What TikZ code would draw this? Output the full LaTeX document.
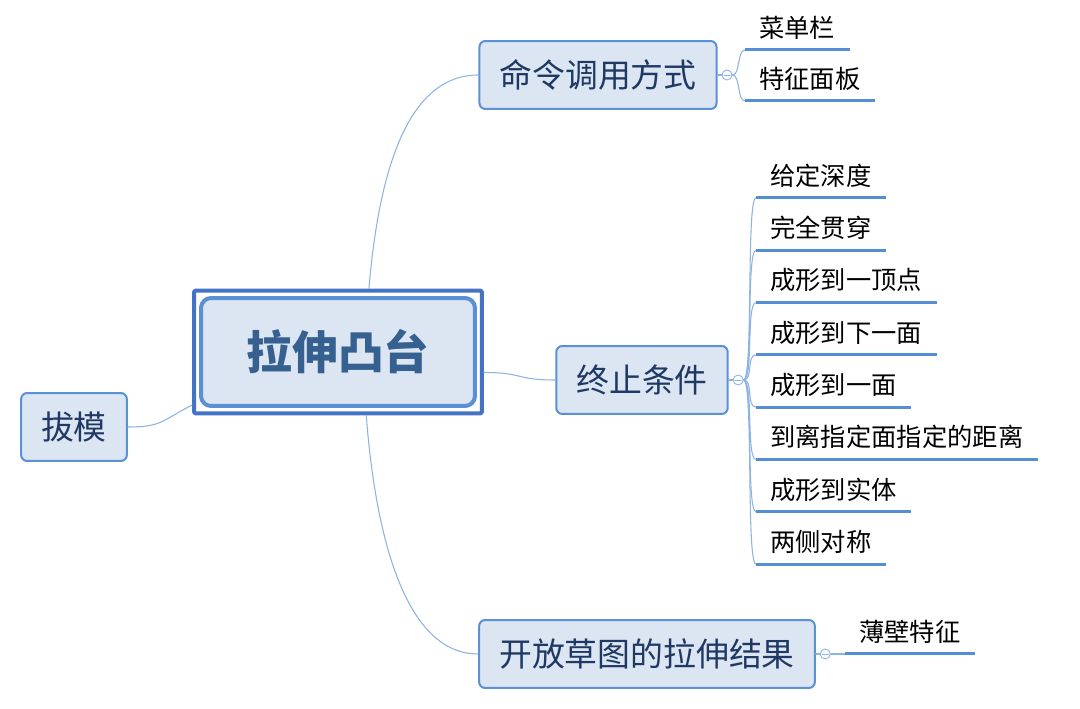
\documentclass[tikz,border=0pt]{standalone}
\usepackage{fontspec}
\setmainfont{Noto Sans CJK SC}
\usetikzlibrary{positioning}
\definecolor{box_fill}{HTML}{DCE6F2}
\definecolor{box_line}{HTML}{5B8FD6}
\definecolor{hub_line}{HTML}{4472C4}
\definecolor{link_blue}{HTML}{8DB3E2}
\definecolor{leaf_blue}{HTML}{558ED5}
\definecolor{ink_navy}{HTML}{1F3864}
\definecolor{hub_ink}{HTML}{35608F}

\begin{document}
\begin{tikzpicture}[x=0.02cm,y=-0.02cm,line join=round,line cap=round,
		topic/.style={draw=box_line,fill=box_fill,line width=0.04cm,rounded corners=0.12cm,
			minimum height=1.36cm,inner xsep=0.4cm,text=ink_navy,font=\fontsize{18.7}{20}\selectfont},
		leaf/.style={anchor=south west,inner xsep=0.28cm,inner ysep=0pt,minimum height=0.88cm,
			font=\fontsize{14.4}{16}\selectfont},
		leafline/.style={leaf_blue,line width=0.06cm,line cap=butt},
		link/.style={link_blue,line width=0.6pt},
		fold/.style={circle,draw=link_blue,fill=white,line width=0.5pt,minimum size=0.2cm,inner sep=0pt,
			path picture={\draw[link_blue,line width=0.4pt] ([xshift=-0.06cm]path picture bounding box.center) -- ([xshift=0.06cm]path picture bounding box.center);}}]
		\useasboundingbox[fill=white] (0,0) rectangle (1080,709);
		\begin{scope}
		% hub
		\node[draw=hub_line,line width=0.08cm,rounded corners=0.04cm,minimum width=5.76cm,minimum height=2.46cm] (hub) at (338,352) {};
		\node[draw=box_line,fill=box_fill,line width=0.08cm,rounded corners=0.2cm,minimum width=5.48cm,minimum height=2.16cm,
			text=hub_ink,font=\fontsize{26}{30}\bfseries] (boss) at (hub) {拉伸凸台};
		% topics
		\node[topic] (cmd)   at (598,75)  {命令调用方式};
		\node[topic] (stop)  at (642,380) {终止条件};
		\node[topic] (open)  at (647,654) {开放草图的拉伸结果};
		\node[topic] (draft) at (74,427)  {拔模};
		\draw[link] (hub.64) .. controls +(10,-120) and +(-70,0) .. (cmd.west);
		\draw[link] (hub.-8) .. controls +(40,0) and +(-40,0) .. (stop.west);
		\draw[link] (hub.-66) .. controls +(10,130) and +(-70,0) .. (open.west);
		\draw[link] (hub.200) .. controls +(-30,15) and +(35,0) .. (draft.east);
		\node[fold,right=0.08cm of cmd]  (f1) {};
		\node[fold,right=0.08cm of stop] (f2) {};
		\node[fold,right=0.08cm of open] (f3) {};
		\draw[link] (cmd.east) -- (f1.west);
		\draw[link] (stop.east) -- (f2.west);
		\draw[link] (open.east) -- (f3.west);
		% leaves
		\foreach\t/\y [count=\i] in {菜单栏/50,特征面板/101}
		{
			\node[leaf] (a\i) at (745,\y) {\t};
			\draw[link] (f1.east) .. controls +(8,0) and +(-8,0) .. (a\i.south west);
			\draw[leafline] (a\i.south west) -- (a\i.south east);
		}
		\foreach\t [count=\i] in {给定深度,完全贯穿,成形到一顶点,成形到下一面,成形到一面,到离指定面指定的距离,成形到实体,两侧对称}
		{
			\pgfmathsetmacro\y{198+52.3*(\i-1)}
			\node[leaf] (b\i) at (756,\y) {\t};
			\draw[link] (f2.east) .. controls +(10,0) and +(-10,0) .. (b\i.south west);
			\draw[leafline] (b\i.south west) -- (b\i.south east);
		}
		\node[leaf] (c1) at (845,654) {薄壁特征};
		\draw[link] (f3.east) -- (c1.south west);
		\draw[leafline] (c1.south west) -- (c1.south east);
		\end{scope}
	\end{tikzpicture}
\end{document}
